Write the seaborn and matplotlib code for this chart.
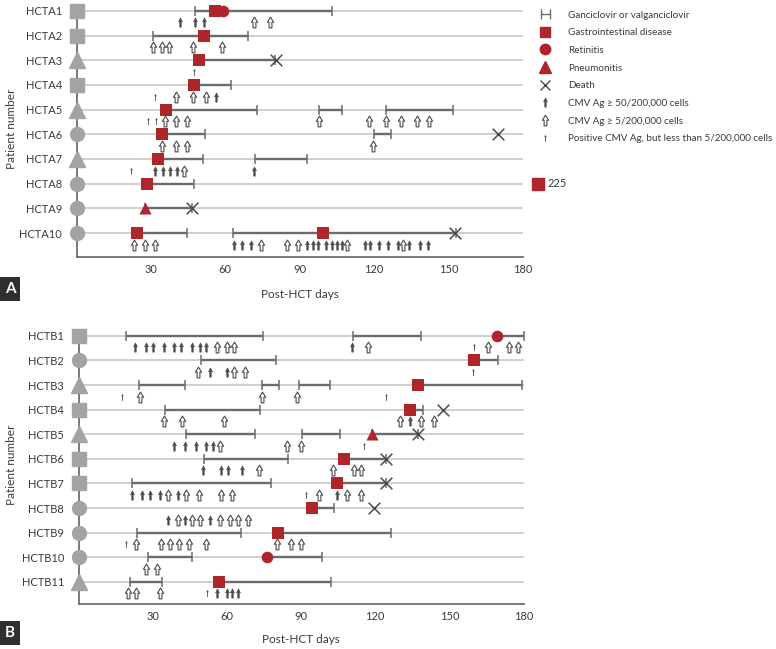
import matplotlib
matplotlib.use("Agg")
import numpy as np
import pandas as pd
import matplotlib.pyplot as plt
import seaborn as sns
from matplotlib.path import Path
from matplotlib.lines import Line2D
from matplotlib.legend_handler import HandlerLine2D

# ---------------- data: days post-HCT ----------------
a_patients = ["HCTA1", "HCTA2", "HCTA3", "HCTA4", "HCTA5",
              "HCTA6", "HCTA7", "HCTA8", "HCTA9", "HCTA10"]
a_base = ["square", "square", "triangle", "square", "triangle",
          "circle", "triangle", "circle", "circle", "circle"]
a_drug = [[(48, 103)], [(31, 69)], [(49, 80)], [(47, 62.5)],
          [(36, 73), (98, 107), (125, 152)], [(34.5, 52), (120, 127)],
          [(33, 51), (72, 93)], [(28.5, 47.5)], [(27.6, 46.4)],
          [(24.4, 44.6), (63, 153)]]
a_gi = [[56], [51.3], [49.3], [47.3], [36], [34.5], [33], [28.5], [], [24.4, 99.4]]
a_retin = [[59], [], [], [], [], [], [], [], [], []]
a_pneu = [[], [], [], [], [], [], [], [], [27.6], []]
a_death = [[], [], [80.3], [], [], [170], [], [], [46.4], [152.7]]
a_strong = [[41.7, 47.7, 51.6], [], [], [56.2], [], [],
            [31.6, 34.8, 37.7, 40.5, 71.5], [], [],
            [63.6, 66.9, 70.3, 93.1, 95.4, 97.5, 100.8, 103.2, 105.2, 107.2,
             116.3, 118.3, 122.2, 125.7, 129.8, 134.3, 138.6, 141.8]]
a_moderate = [[71.5, 78.2], [30.7, 34.6, 37.4, 47, 58.5], [], [40.3, 46.8, 52.2],
              [35.6, 40.3, 44.6, 98, 118, 125, 130.8, 137.5, 142],
              [34.5, 40.3, 44.6, 119.5], [43.3], [], [],
              [23.3, 27.6, 31.6, 74.3, 85.1, 89.5, 109.3, 131.6]]
a_weak = [[], [], [47.3], [31.7], [28.9, 31.9], [], [22], [], [], []]
a_offscale_patient = "HCTA8"
a_offscale_day = 225

b_patients = ["HCTB1", "HCTB2", "HCTB3", "HCTB4", "HCTB5", "HCTB6",
              "HCTB7", "HCTB8", "HCTB9", "HCTB10", "HCTB11"]
b_base = ["square", "circle", "triangle", "square", "triangle", "square",
          "square", "circle", "circle", "circle", "triangle"]
b_drug = [[(19.2, 74.6), (110.9, 138.4), (169.4, 180)],
          [(49.5, 79.9), (160, 169.5)],
          [(24.5, 43.2), (74.1, 81.1), (89.3, 101.6), (137.2, 179.5)],
          [(35, 73.4), (134.1, 139.4)],
          [(43.6, 71.5), (90.5, 105.9), (118.7, 137.3)],
          [(50.9, 84.9), (107.4, 124.5)],
          [(21.8, 77.7), (104.7, 124.2)],
          [(94.3, 103.2)],
          [(23.5, 65.7), (80.5, 126.5)],
          [(28, 45.8), (76.1, 98.3)],
          [(20.7, 33.8), (56.7, 102)]]
b_gi = [[], [160], [137.2], [134.1], [], [107.4], [104.7], [94.3], [80.5], [], [56.7]]
b_retin = [[169.4], [], [], [], [], [], [], [], [], [76.1], []]
b_pneu = [[], [], [], [], [118.7], [], [], [], [], [], []]
b_death = [[], [], [], [147.3], [137.3], [124.5], [124.2], [119.4], [], [], []]
b_strong = [[23, 27.3, 30.1, 34.6, 38.5, 41.6, 46, 49.1, 51.7, 110.5],
            [53, 60], [], [134.2], [38.8, 42.9, 47.5, 51.6, 54.5],
            [50.2, 57.6, 60.3, 66.1], [21.8, 25.8, 29, 33.1, 40.2, 104.4],
            [36.3, 43.1, 53], [], [], [56, 59.9, 62.2, 64.4]]
b_moderate = [[55.9, 60, 62.9, 117.2, 165.5, 174.2, 177.9],
              [48.5, 62.9, 67.2], [24.9, 74.1, 88.5],
              [34.7, 41.7, 59, 129.9, 138.4, 143.9], [57.2, 84.3, 90.1],
              [73, 103, 111.3, 114.2],
              [36.2, 43.3, 48.7, 57.5, 61.9, 97.4, 108.6, 114.4],
              [40.1, 46, 49.3, 57.1, 61.3, 64.4, 68.7],
              [23.1, 33.4, 37.1, 40.5, 44.7, 51.6, 80.4, 85.8, 90],
              [27.4, 31.9], [20.1, 23.1, 33.1]]
b_weak = [[159.9], [159.7], [17.7, 124.5], [], [115.6], [], [91.9], [], [19.1], [], [52.1]]

x_ticks = [30, 60, 90, 120, 150, 180]
legend_labels = ["Ganciclovir or valganciclovir", "Gastrointestinal disease",
                 "Retinitis", "Pneumonitis", "Death",
                 "CMV Ag \u2265 50/200,000 cells", "CMV Ag \u2265 5/200,000 cells",
                 "Positive CMV Ag, but less than 5/200,000 cells"]

# ---------------- style ----------------
sns.set_style("white")
plt.rcParams["font.family"] = ["Lato", "DejaVu Sans"]

RED = "#b0242b"
BASE = "#a3a3a3"
ROW = "#c2c2c2"
DRUG = "#6b6b6b"
AXIS = "#6e6e6e"
TXT = "#3a3a3a"
DARK = "#4a4a4a"
shape_marker = {"square": "s", "circle": "o", "triangle": "^"}


def arrow_path(shaft, head, head_y):
    verts = [(-shaft, -1), (shaft, -1), (shaft, head_y), (head, head_y),
             (0, 1), (-head, head_y), (-shaft, head_y), (-shaft, -1)]
    codes = [Path.MOVETO] + [Path.LINETO] * 6 + [Path.CLOSEPOLY]
    return Path(verts, codes)


STRONG = arrow_path(0.16, 0.42, 0.15)
MODERATE = arrow_path(0.26, 0.58, 0.05)
WEAK = arrow_path(0.06, 0.26, 0.45)


def long_table(values, offset=0.0):
    rows = [(i + 1 + offset, d) for i, days in enumerate(values) for d in days]
    return pd.DataFrame(rows, columns=["row", "day"])


def draw_panel(ax, patients, base, drug, gi, retin, pneu, death,
               strong, moderate, weak, bottom_pad):
    n = len(patients)
    rows = np.arange(1, n + 1)
    ax.hlines(rows, 0, 180, color=ROW, lw=1.1, zorder=1)
    for r, segs in zip(rows, drug):
        for s, e in segs:
            ax.hlines(r, s, e, color=DRUG, lw=1.7, zorder=2)
            ax.plot([s, e], [r, r], ls="none", marker="|", ms=7, mew=1.1,
                    color=DRUG, zorder=2)
    for r, shp in zip(rows, base):
        ax.plot(0, r, marker=shape_marker[shp], ms=10 if shp != "triangle" else 11,
                color=BASE, ls="none", clip_on=False, zorder=5)

    for vals, mk, sz in [(gi, "s", 70), (retin, "o", 70), (pneu, "^", 75)]:
        df = long_table(vals)
        if len(df):
            sns.scatterplot(data=df, x="day", y="row", marker=mk, s=sz, color=RED,
                            linewidth=0, ax=ax, legend=False, zorder=6, clip_on=False)
    df = long_table(death)
    if len(df):
        sns.scatterplot(data=df, x="day", y="row", marker="x", s=70, color=DARK,
                        linewidth=1.1, ax=ax, legend=False, zorder=6)

    df = long_table(strong, 0.47)
    sns.scatterplot(data=df, x="day", y="row", marker=STRONG, s=45, color=DARK,
                    edgecolor=DARK, linewidth=0.4, ax=ax, legend=False, zorder=4)
    df = long_table(moderate, 0.47)
    sns.scatterplot(data=df, x="day", y="row", marker=MODERATE, s=60, color="white",
                    edgecolor=DARK, linewidth=0.8, ax=ax, legend=False, zorder=4)
    df = long_table(weak, 0.47)
    if len(df):
        sns.scatterplot(data=df, x="day", y="row", marker=WEAK, s=22, color="#555555",
                        edgecolor="#555555", linewidth=0.3, ax=ax, legend=False, zorder=4)

    ax.set_xlim(0, 180)
    ax.set_ylim(n + bottom_pad, 0.6)
    ax.set_yticks(rows)
    ax.set_yticklabels(patients)
    ax.set_xticks(x_ticks)
    ax.set_xticklabels([str(t) for t in x_ticks])
    for side in ["top", "right"]:
        ax.spines[side].set_visible(False)
    for side in ["left", "bottom"]:
        ax.spines[side].set_color(AXIS)
        ax.spines[side].set_linewidth(1.3)
    ax.spines["left"].set_bounds(n + bottom_pad, 0.8)
    ax.tick_params(axis="y", length=0, pad=10.5, labelsize=8, labelcolor=TXT)
    ax.tick_params(axis="x", direction="inout", length=6, width=1.1, color=AXIS,
                   pad=2, labelsize=8, labelcolor=TXT)
    ax.set_xlabel("Post-HCT days", fontsize=8.5, color=TXT)
    ax.set_ylabel("Patient number", fontsize=8.5, color=TXT)
    ax.grid(False)


fig = plt.figure(figsize=(7.76, 6.49), dpi=100)
W, H = 776, 649
ax_a = fig.add_axes([76.5 / W, (H - 257) / H, 446.2 / W, 256 / H])
ax_b = fig.add_axes([78.5 / W, (H - 604) / H, 445.1 / W, 278 / H])

draw_panel(ax_a, a_patients, a_base, a_drug, a_gi, a_retin, a_pneu, a_death,
           a_strong, a_moderate, a_weak, 0.97)
draw_panel(ax_b, b_patients, b_base, b_drug, b_gi, b_retin, b_pneu, b_death,
           b_strong, b_moderate, b_weak, 0.9)

ax_a.xaxis.set_label_coords(0.5, -(289 - 257) / 256)
ax_a.yaxis.set_label_coords((17 - 76.5) / 446.2, 0.5)
ax_b.xaxis.set_label_coords(0.5, -(634 - 604) / 278)
ax_b.yaxis.set_label_coords((17 - 78.5) / 445.1, 0.5)

# off-scale gastrointestinal disease for HCTA8
r8 = a_patients.index(a_offscale_patient) + 1
ax_a.plot(186, r8, marker="s", ms=8.3, color=RED, clip_on=False, zorder=6)
ax_a.text(190, r8, str(a_offscale_day), va="center", ha="left", fontsize=8,
          color=TXT, clip_on=False)

# panel letters
for letter, ypx in [("A", 289), ("B", 633)]:
    fig.text(10 / W, 1 - ypx / H, letter, color="white", fontsize=11, weight="bold",
             ha="center", va="center",
             bbox=dict(facecolor="#2f2f2f", edgecolor="none", pad=3.5))

# legend
handles = [
    Line2D([], [], color=DRUG, lw=1, marker="|", ms=7, mew=1),
    Line2D([], [], ls="none", marker="s", ms=7.5, color=RED),
    Line2D([], [], ls="none", marker="o", ms=7.5, color=RED),
    Line2D([], [], ls="none", marker="^", ms=8, color=RED),
    Line2D([], [], ls="none", marker="x", ms=7.5, color=DARK, mew=1),
    Line2D([], [], ls="none", marker=STRONG, ms=6.7, mfc=DARK, mec=DARK, mew=0.4),
    Line2D([], [], ls="none", marker=MODERATE, ms=7.7, mfc="white", mec=DARK, mew=0.8),
    Line2D([], [], ls="none", marker=WEAK, ms=4.7, mfc="#555555", mec="#555555", mew=0.3),
]
fig.legend(handles, legend_labels, loc="upper left",
           bbox_to_anchor=(538 / W, 1 - 10.5 / H), frameon=False, fontsize=7.1,
           handlelength=1.5, handletextpad=1.55, labelspacing=0.88,
           borderpad=0, borderaxespad=0, labelcolor=TXT,
           handler_map={handles[0]: HandlerLine2D(numpoints=2)})

fig.savefig("out.png", dpi=100)
